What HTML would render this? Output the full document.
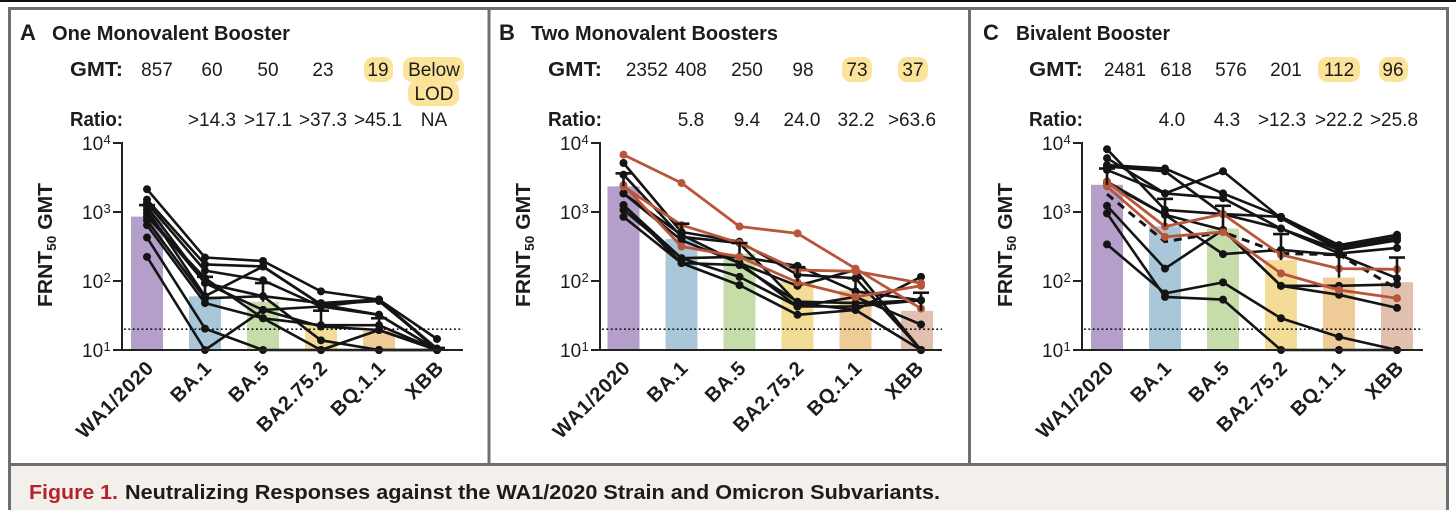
<!DOCTYPE html>
<html lang="en">
<head>
<meta charset="utf-8">
<title>Neutralizing Responses against the WA1/2020 Strain and Omicron Subvariants</title>
<style>
html,body{margin:0;padding:0;background:#fff;width:1456px;height:510px;overflow:hidden}
svg{display:block}
text{font-family:"Liberation Sans",sans-serif;fill:#1c1c1c}
.head{font-size:20px;font-weight:bold;stroke:#1c1c1c;stroke-width:0}
.val{font-size:19px;text-anchor:middle}
.lab{font-size:20px;font-weight:bold;text-anchor:end}
.pill{fill:#fbe49a}
</style>
</head>
<body>
<svg id="figure" xmlns="http://www.w3.org/2000/svg" width="1456" height="510" viewBox="0 0 1456 510">
  <rect x="0" y="0" width="1456" height="2" fill="#111"/>
  <rect x="9" y="465" width="1439" height="45" fill="#f3f0eb"/>
  <rect x="9.5" y="8.5" width="1438" height="456" fill="none" stroke="#6f6f6f" stroke-width="3"/>
  <line x1="489" y1="8" x2="489" y2="465" stroke="#6f6f6f" stroke-width="3"/>
  <line x1="969.5" y1="8" x2="969.5" y2="465" stroke="#6f6f6f" stroke-width="3"/>
  <line x1="9.5" y1="465" x2="9.5" y2="510" stroke="#6f6f6f" stroke-width="3"/>
  <line x1="1447.5" y1="465" x2="1447.5" y2="510" stroke="#6f6f6f" stroke-width="3"/>
  <text x="29" y="499" font-size="20" font-weight="bold" style="fill:#b3252b" textLength="89" lengthAdjust="spacingAndGlyphs">Figure 1.</text>
  <text x="125" y="499" font-size="20" font-weight="bold" textLength="815" lengthAdjust="spacingAndGlyphs">Neutralizing Responses against the WA1/2020 Strain and Omicron Subvariants.</text>

  <g>
    <text class="head" x="20" y="40" font-size="22" style="font-size:22px">A</text>
    <text class="head" x="52" y="40" textLength="238" lengthAdjust="spacingAndGlyphs">One Monovalent Booster</text>
    <rect class="pill" x="364" y="57" width="29" height="25" rx="9"/>
    <rect class="pill" x="403" y="57" width="61" height="25" rx="9"/>
    <rect class="pill" x="408" y="81" width="51" height="25" rx="9"/>
    <text class="lab" x="123" y="76" textLength="53" lengthAdjust="spacingAndGlyphs">GMT:</text>
    <text class="lab" x="123" y="126" textLength="53" lengthAdjust="spacingAndGlyphs">Ratio:</text>
    <text class="val" x="157" y="76">857</text>
    <text class="val" x="212" y="76">60</text>
    <text class="val" x="268" y="76">50</text>
    <text class="val" x="323" y="76">23</text>
    <text class="val" x="378" y="76">19</text>
    <text class="val" x="434" y="76">Below</text>
    <text class="val" x="434" y="100">LOD</text>
    <text class="val" x="212" y="126">&gt;14.3</text>
    <text class="val" x="268" y="126">&gt;17.1</text>
    <text class="val" x="323" y="126">&gt;37.3</text>
    <text class="val" x="378" y="126">&gt;45.1</text>
    <text class="val" x="434" y="126">NA</text>
  </g>

  <g>
    <text class="head" x="499" y="40" style="font-size:22px">B</text>
    <text class="head" x="531" y="40" textLength="247" lengthAdjust="spacingAndGlyphs">Two Monovalent Boosters</text>
    <rect class="pill" x="842" y="57" width="30" height="25" rx="9"/>
    <rect class="pill" x="898" y="57" width="30" height="25" rx="9"/>
    <text class="lab" x="602" y="76" textLength="54" lengthAdjust="spacingAndGlyphs">GMT:</text>
    <text class="lab" x="602" y="126" textLength="54" lengthAdjust="spacingAndGlyphs">Ratio:</text>
    <text class="val" x="647" y="76">2352</text>
    <text class="val" x="691" y="76">408</text>
    <text class="val" x="747" y="76">250</text>
    <text class="val" x="803" y="76">98</text>
    <text class="val" x="857" y="76">73</text>
    <text class="val" x="913" y="76">37</text>
    <text class="val" x="691" y="126">5.8</text>
    <text class="val" x="747" y="126">9.4</text>
    <text class="val" x="802" y="126">24.0</text>
    <text class="val" x="856" y="126">32.2</text>
    <text class="val" x="912" y="126">&gt;63.6</text>
  </g>

  <g>
    <text class="head" x="983" y="40" style="font-size:22px">C</text>
    <text class="head" x="1016" y="40" textLength="154" lengthAdjust="spacingAndGlyphs">Bivalent Booster</text>
    <rect class="pill" x="1318" y="57" width="42" height="25" rx="9"/>
    <rect class="pill" x="1379" y="57" width="29" height="25" rx="9"/>
    <text class="lab" x="1083" y="76" textLength="54" lengthAdjust="spacingAndGlyphs">GMT:</text>
    <text class="lab" x="1083" y="126" textLength="54" lengthAdjust="spacingAndGlyphs">Ratio:</text>
    <text class="val" x="1125" y="76">2481</text>
    <text class="val" x="1176" y="76">618</text>
    <text class="val" x="1231" y="76">576</text>
    <text class="val" x="1286" y="76">201</text>
    <text class="val" x="1339" y="76">112</text>
    <text class="val" x="1393" y="76">96</text>
    <text class="val" x="1172" y="126">4.0</text>
    <text class="val" x="1227" y="126">4.3</text>
    <text class="val" x="1282" y="126">&gt;12.3</text>
    <text class="val" x="1339" y="126">&gt;22.2</text>
    <text class="val" x="1394" y="126">&gt;25.8</text>
  </g>
</svg>
<script>
// ---- shared chart data ----
var categories = ["WA1/2020", "BA.1", "BA.5", "BA2.75.2", "BQ.1.1", "XBB"];
var barColors = ["#b49fca", "#a9c7d9", "#c6dca9", "#f3dc95", "#eecb97", "#e2c0af"];
var yTickExponents = [1, 2, 3, 4];
var detectionLimit = 20;

// ---- panel A ----
var gmtA = [857, 60, 50, 23, 19, 10];
var capLogA = [3.10, 2.06, 1.97, 1.57, 1.46, 1.03];
var blackLogA = [
  [3.33, 2.34, 2.29, 1.85, 1.73, 1.16],
  [3.18, 2.24, 2.21, 1.66, 1.71, 1.02],
  [3.13, 2.15, 2.01, 1.63, 1.51, 1.00],
  [3.08, 1.97, 1.78, 1.68, 1.73, 1.00],
  [3.03, 1.78, 2.21, 1.66, 1.51, 1.00],
  [2.98, 1.97, 1.58, 1.34, 1.29, 1.00],
  [2.93, 2.04, 1.46, 1.36, 1.36, 1.00],
  [2.88, 1.75, 1.78, 1.14, 1.00, 1.00],
  [2.81, 1.68, 1.46, 1.00, 1.29, 1.00],
  [2.63, 1.31, 1.00, 1.00, 1.00, 1.00],
  [2.35, 1.00, 1.58, 1.63, 1.73, 1.02]
];
var redLogA = [];
var dashLogA = [];

// ---- panel B ----
var gmtB = [2352, 408, 250, 98, 73, 37];
var capLogB = [3.56, 2.83, 2.55, 2.20, 2.04, 1.83];
var blackLogB = [
  [3.71, 2.71, 2.57, 2.09, 2.04, 1.00],
  [3.54, 2.64, 2.55, 1.68, 1.58, 2.06],
  [3.27, 2.59, 2.26, 1.63, 1.77, 1.37],
  [3.10, 2.33, 2.35, 2.22, 1.85, 1.72],
  [3.10, 2.26, 2.23, 1.70, 1.68, 1.72],
  [3.03, 2.33, 2.06, 1.63, 1.63, 1.72],
  [2.93, 2.26, 1.94, 1.51, 1.58, 1.00],
  [3.27, 2.67, 2.26, 1.93, 2.16, 1.00]
];
var redLogB = [
  [3.83, 3.42, 2.79, 2.69, 2.18, 1.60],
  [3.37, 2.81, 2.55, 2.16, 2.14, 1.97],
  [3.39, 2.50, 2.35, 1.98, 1.77, 1.93]
];
var dashLogB = [];

// ---- panel C ----
var gmtC = [2481, 618, 576, 201, 112, 96];
var capLogC = [3.63, 3.19, 3.09, 2.68, 2.38, 2.34];
var blackLogC = [
  [3.91, 3.03, 2.97, 2.93, 2.52, 2.67],
  [3.78, 3.27, 3.20, 2.76, 2.45, 2.59],
  [3.68, 3.63, 3.27, 2.93, 2.49, 2.63],
  [3.66, 3.59, 2.97, 2.76, 2.40, 2.48],
  [3.61, 3.27, 3.59, 2.91, 2.45, 2.63],
  [3.42, 2.96, 2.39, 2.45, 2.38, 2.04],
  [3.44, 2.96, 2.74, 1.93, 1.93, 1.95],
  [3.09, 2.18, 2.74, 1.93, 1.80, 1.61],
  [2.53, 1.82, 1.98, 1.46, 1.19, 1.00],
  [2.98, 1.77, 1.73, 1.00, 1.00, 1.00]
];
var redLogC = [
  [3.44, 2.79, 2.97, 2.38, 2.18, 2.17],
  [3.37, 2.64, 2.71, 2.11, 1.87, 1.75]
];
var dashLogC = [
  [3.26, 2.57, 2.71, 2.40, 2.38, 1.89]
];

// ---- layout (not data) ----
var plotTop = 143, plotBottom = 350;
var panels = [
  {id:"a", axisX:122, firstX:147, step:58, lastGap:0, endX:463, titleX:52, gmt:gmtA, caps:capLogA, black:blackLogA, red:redLogA, dash:dashLogA},
  {id:"b", axisX:600, firstX:623.5, step:58, lastGap:4, barGap:3.5, endX:942, titleX:530, gmt:gmtB, caps:capLogB, black:blackLogB, red:redLogB, dash:dashLogB},
  {id:"c", axisX:1082, firstX:1107, step:58, lastGap:0, endX:1423, titleX:1012, gmt:gmtC, caps:capLogC, black:blackLogC, red:redLogC, dash:dashLogC}
];

var root = document.getElementById("figure");
var NS = "http://www.w3.org/2000/svg";
function make(tag, parent) {
  var e = document.createElementNS(NS, tag);
  parent.appendChild(e);
  return e;
}
function yScale(logValue) {
  return plotBottom - (logValue - 1) * (plotBottom - plotTop) / 3;
}
function xPoint(p, i) {
  return p.firstX + i * p.step + (i === 5 ? (p.lastGap + (p.barGap || 0)) : 0);
}
function xBar(p, i) {
  return p.firstX + i * p.step + (i === 5 ? (p.barGap || 0) : 0);
}
function drawSeries(p, g, row, color, width, radius, dashed, kind) {
  var pts = row.map(function (v, i) { return xPoint(p, i).toFixed(1) + "," + yScale(v).toFixed(1); }).join(" ");
  var line = make("polyline", g);
  
  
  line.setAttribute("points", pts);
  line.setAttribute("fill", "none");
  line.setAttribute("stroke", color);
  line.setAttribute("stroke-width", width);
  line.setAttribute("stroke-linejoin", "round");
  if (dashed) line.setAttribute("stroke-dasharray", "8 6");
  if (dashed) return;
  row.forEach(function (v, i) {
    var c = make("circle", g);
    
    
    c.setAttribute("cx", xPoint(p, i));
    c.setAttribute("cy", yScale(v));
    c.setAttribute("r", radius);
    c.setAttribute("fill", color);
  });
}
panels.forEach(function (p) {
  var g = make("g", root);
  
  

  // bars
  p.gmt.forEach(function (v, i) {
    var top = yScale(Math.log10(v));
    var r = make("rect", g);
    
    
    r.setAttribute("x", xBar(p, i) - 16);
    r.setAttribute("y", top);
    r.setAttribute("width", 32);
    r.setAttribute("height", plotBottom - top);
    r.setAttribute("fill", barColors[i]);
  });

  // limit of detection
  var lod = make("line", g);
  
  
  lod.setAttribute("x1", p.axisX + 2);
  lod.setAttribute("x2", p.endX);
  lod.setAttribute("y1", yScale(Math.log10(detectionLimit)));
  lod.setAttribute("y2", yScale(Math.log10(detectionLimit)));
  lod.setAttribute("stroke", "#111");
  lod.setAttribute("stroke-width", 1.6);
  lod.setAttribute("stroke-dasharray", "1.8 2.6");

  // series
  p.black.forEach(function (row) { drawSeries(p, g, row, "#141414", 2.6, 4, false, "participant"); });
  p.dash.forEach(function (row) { drawSeries(p, g, row, "#141414", 3, 0, true, "dashed-participant"); });
  p.red.forEach(function (row) { drawSeries(p, g, row, "#b8553a", 2.8, 4, false, "highlighted-participant"); });

  // error bars
  p.caps.forEach(function (v, i) {
    var x = xBar(p, i) + (i === 5 ? p.lastGap : 0);
    var yTop = yScale(v), yBase = yScale(Math.log10(p.gmt[i]));
    var stem = make("line", g);
    
    
    stem.setAttribute("x1", x);
    stem.setAttribute("x2", x);
    stem.setAttribute("y1", yTop);
    stem.setAttribute("y2", yBase);
    stem.setAttribute("stroke", "#141414");
    stem.setAttribute("stroke-width", 2.6);
    var cap = make("line", g);
    
    
    cap.setAttribute("x1", x - 8);
    cap.setAttribute("x2", x + 8);
    cap.setAttribute("y1", yTop);
    cap.setAttribute("y2", yTop);
    cap.setAttribute("stroke", "#141414");
    cap.setAttribute("stroke-width", 2.6);
  });

  // axes
  var ya = make("line", g);
  
  
  ya.setAttribute("x1", p.axisX);
  ya.setAttribute("x2", p.axisX);
  ya.setAttribute("y1", plotTop - 1);
  ya.setAttribute("y2", plotBottom + 1);
  ya.setAttribute("stroke", "#222");
  ya.setAttribute("stroke-width", 2);
  var xa = make("line", g);
  
  
  xa.setAttribute("x1", p.axisX - 9);
  xa.setAttribute("x2", p.endX);
  xa.setAttribute("y1", plotBottom);
  xa.setAttribute("y2", plotBottom);
  xa.setAttribute("stroke", "#222");
  xa.setAttribute("stroke-width", 2);

  // y ticks
  yTickExponents.forEach(function (exp) {
    var y = yScale(exp);
    var t = make("line", g);
    
    
    t.setAttribute("x1", p.axisX - 9);
    t.setAttribute("x2", p.axisX);
    t.setAttribute("y1", y);
    t.setAttribute("y2", y);
    t.setAttribute("stroke", "#222");
    t.setAttribute("stroke-width", 2);
    var lbl = make("text", g);
    
    
    lbl.setAttribute("x", p.axisX - 40);
    lbl.setAttribute("y", y + 7);
    lbl.setAttribute("font-size", 19);
    lbl.textContent = "10";
    var sup = make("text", g);
    
    
    sup.setAttribute("x", p.axisX - 18.5);
    sup.setAttribute("y", y + 1);
    sup.setAttribute("font-size", 13);
    sup.textContent = String(exp);
  });

  // y-axis title
  var ty = make("text", g);
  
  
  ty.setAttribute("transform", "translate(" + (p.titleX) + ",307) rotate(-90)");
  ty.setAttribute("font-size", 20);
  ty.setAttribute("font-weight", "bold");
  ty.setAttribute("textLength", 124);
  ty.setAttribute("lengthAdjust", "spacingAndGlyphs");
  var s1 = make("tspan", ty);
  s1.textContent = "FRNT";
  var s2 = make("tspan", ty);
  s2.setAttribute("font-size", 13);
  s2.setAttribute("dy", 4);
  s2.textContent = "50";
  var s3 = make("tspan", ty);
  s3.setAttribute("dy", -4);
  s3.textContent = " GMT";

  // x labels
  categories.forEach(function (c, i) {
    var x = xBar(p, i) + 8;
    var lab = make("text", g);
    
    
    lab.setAttribute("transform", "translate(" + x + ",369) rotate(-45)");
    lab.setAttribute("text-anchor", "end");
    lab.setAttribute("font-size", 20);
    lab.setAttribute("font-weight", "bold");
    lab.setAttribute("letter-spacing", "0.8");
    lab.textContent = c;
  });
});
</script>
</body>
</html>
